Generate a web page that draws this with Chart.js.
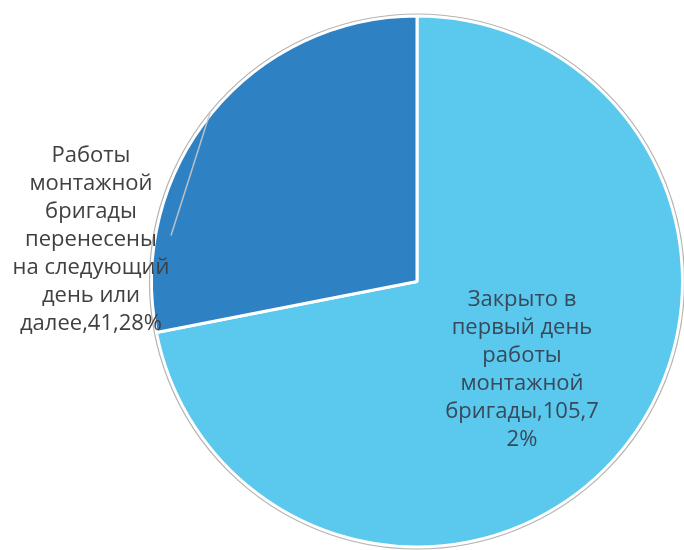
<!DOCTYPE html>
<html><head><meta charset="utf-8">
<script src="https://cdn.jsdelivr.net/npm/chart.js@4/dist/chart.umd.min.js"></script>
<style>html,body{margin:0;padding:0;background:#fff;}#wrap{width:684px;height:550px;position:relative;}</style>
</head><body><div id="wrap"><canvas id="c"></canvas></div>
<script>
const categories = ["Закрыто в первый день работы монтажной бригады", "Работы монтажной бригады перенесены на следующий день или далее"];
const values = [105.72, 41.28];
const valueText = ["105,72%", "41,28%"];
const labelLines = [
  ["Закрыто в", "первый день", "работы", "монтажной", "бригады,105,7", "2%"],
  ["Работы", "монтажной", "бригады", "перенесены", "на следующий", "день или", "далее,41,28%"]
];
const colors = ["#5bc8ed", "#2e82c4"];

const labelPlugin = {
  id: 'pieLabels',
  afterDatasetsDraw(chart) {
    const ctx = chart.ctx;
    const meta = chart.getDatasetMeta(0);
    const a0 = meta.data[0];
    const cx = a0.x, cy = a0.y, R = a0.outerRadius;
    // outer gray outline
    ctx.save();
    ctx.beginPath();
    ctx.arc(cx, cy, R + 2, 0, Math.PI * 2);
    ctx.strokeStyle = '#b4b4b4';
    ctx.lineWidth = 1.2;
    ctx.stroke();
    ctx.restore();

    ctx.save();
    ctx.font = '22px "Open Sans", sans-serif';
    ctx.textAlign = 'center';
    ctx.textBaseline = 'middle';
    // inside label (slice 0)
    const pos0 = {x: cx + 105, y: cy + 18};
    ctx.fillStyle = '#37495a';
    labelLines[0].forEach((t, i) => ctx.fillText(t, pos0.x, pos0.y + i * 28));
    // outside label (slice 1) with leader line
    const a1 = meta.data[1];
    const mid = (a1.startAngle + a1.endAngle) / 2;
    const sx = cx + Math.cos(mid) * (R + 2), sy = cy + Math.sin(mid) * (R + 2);
    ctx.beginPath();
    ctx.moveTo(sx, sy);
    ctx.lineTo(cx - 246, cy - 46);
    ctx.strokeStyle = 'rgba(200,200,200,0.9)';
    ctx.lineWidth = 1.5;
    ctx.stroke();
    ctx.fillStyle = '#404040';
    const pos1 = {x: cx - 326, y: cy - 126};
    labelLines[1].forEach((t, i) => ctx.fillText(t, pos1.x, pos1.y + i * 28));
    ctx.restore();
  }
};

new Chart(document.getElementById('c'), {
  type: 'pie',
  data: {
    labels: categories,
    datasets: [{
      data: values,
      backgroundColor: colors,
      borderColor: '#ffffff',
      borderWidth: 3
    }]
  },
  options: {
    responsive: true,
    maintainAspectRatio: false,
    animation: false,
    layout: {padding: {left: 150, right: 0, top: 13, bottom: 0}},
    plugins: {legend: {display: false}, tooltip: {enabled: false}}
  },
  plugins: [labelPlugin]
});
</script></body></html>
